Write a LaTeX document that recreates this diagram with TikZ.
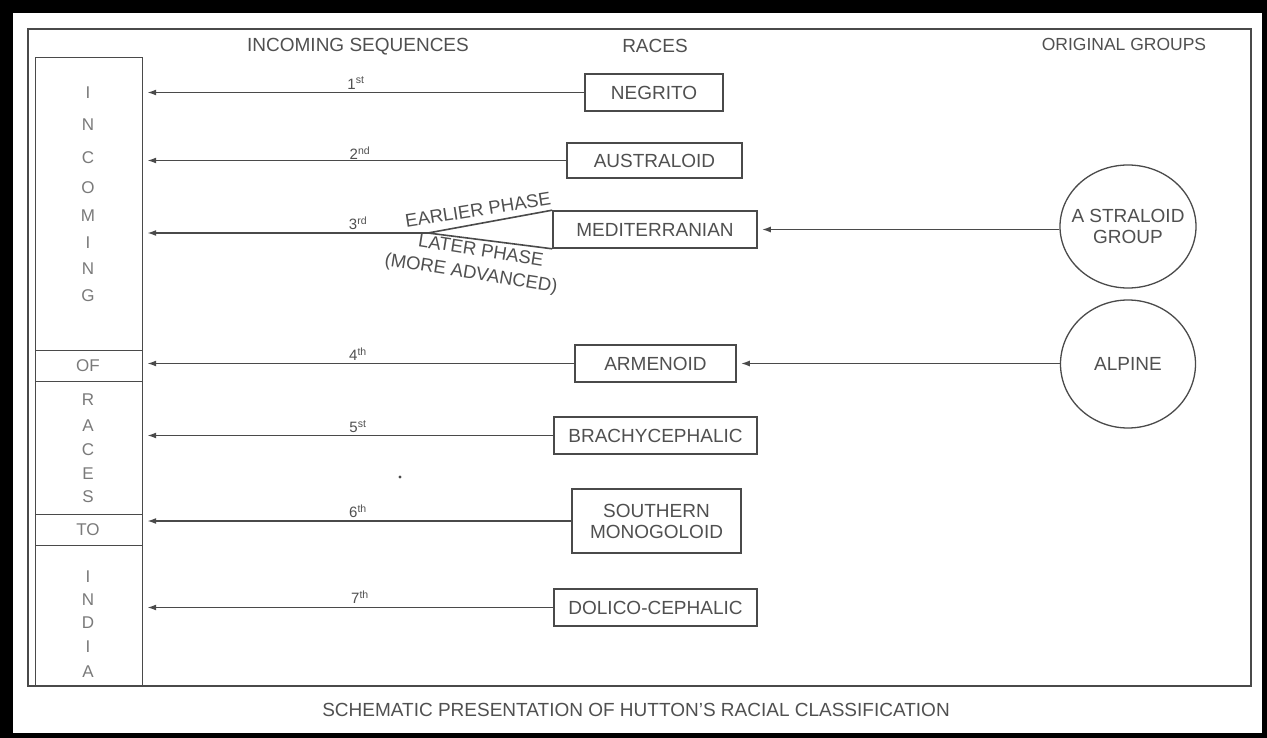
\documentclass[tikz,border=0pt]{standalone}
\usepackage{fontspec}
\setmainfont{Liberation Sans}
\usetikzlibrary{arrows.meta,shapes.geometric}
\definecolor{ink}{HTML}{4A4A4A}
\definecolor{txt}{HTML}{505050}
\definecolor{soft}{HTML}{7A7A7A}

\begin{document}
\begin{tikzpicture}[x=1pt,y=-1pt,
  line/.style={draw=ink, line width=1.6pt},
  racebox/.style={line, rectangle, inner sep=0pt, font=\fontsize{19}{21}\selectfont, text=txt, align=center},
  groupcirc/.style={line, line width=1.3pt, ellipse, inner sep=-10pt, font=\fontsize{19}{21}\selectfont, text=txt, align=center},
  colcell/.style={draw=ink, line width=1.2pt, rectangle, inner sep=0pt, anchor=north west, minimum width=107pt},
  letter/.style={font=\fontsize{17}{19}\selectfont, text=soft},
  head/.style={font=\fontsize{19}{21}\selectfont, text=txt},
  ordl/.style={font=\fontsize{15}{17}\selectfont, text=txt},
  phase/.style={font=\fontsize{18.5}{20}\selectfont, text=txt, inner sep=0pt},
  flow/.style={line, -{Latex[length=9pt,width=6pt]}, shorten >=4pt},
]
% page and black border
\useasboundingbox (0,0) rectangle (1267,738);
\fill[black] (0,0) rectangle (1267,738);
\fill[white] (13,13) rectangle (1262,733);

% outer frame
\draw[draw=ink, line width=1.2pt] (28,29) rectangle (1251,686);

% left column: INCOMING OF RACES TO INDIA
\node[colcell, minimum height=293pt] (cIncoming) at (35,57) {};
\node[colcell, minimum height=31pt]  (cOf)       at (35,350) {};
\node[colcell, minimum height=133pt] (cRaces)    at (35,381) {};
\node[colcell, minimum height=31pt]  (cTo)       at (35,514) {};
\node[colcell, minimum height=141pt] (cIndia)    at (35,545) {};

\foreach \ch/\yy [count=\k] in {I/93,N/125,C/158,O/188,M/216,I/243,N/269,G/296}
  \node[letter] (inc\k) at (88,\yy) {\ch};
\node[letter] (wOf) at (88,366) {OF};
\foreach \ch/\yy [count=\k] in {R/400,A/426,C/450,E/474,S/497}
  \node[letter] (rac\k) at (88,\yy) {\ch};
\node[letter] (wTo) at (88,530) {TO};
\foreach \ch/\yy [count=\k] in {I/577,N/600,D/623,I/647,A/672}
  \node[letter] (ind\k) at (88,\yy) {\ch};

% column headings
\node[head] (hSeq)   at (358,47)  {INCOMING SEQUENCES};
\node[head] (hRaces) at (655,46)  {RACES};
\node[head, font=\fontsize{17.5}{20}\selectfont] (hOrig) at (1124,44) {ORIGINAL GROUPS};

% races
\node[racebox, minimum width=138pt, minimum height=37pt] (negrito)  at (654,92.5)  {NEGRITO};
\node[racebox, minimum width=175pt, minimum height=35pt] (austral)  at (654.5,160.5) {AUSTRALOID};
\node[racebox, minimum width=204pt, minimum height=37pt] (medit)    at (655,229.5) {MEDITERRANIAN};
\node[racebox, minimum width=161pt, minimum height=37pt] (armen)    at (655.5,363.5) {ARMENOID};
\node[racebox, minimum width=203pt, minimum height=37pt] (brachy)   at (655.5,435.5) {BRACHYCEPHALIC};
\node[racebox, minimum width=169pt, minimum height=64pt] (southern) at (656.5,521)  {SOUTHERN\\MONOGOLOID};
\node[racebox, minimum width=203pt, minimum height=37pt] (dolico)   at (655.5,607.5) {DOLICO-CEPHALIC};

% original groups
\node[groupcirc, minimum width=136pt, minimum height=123pt] (astral) at (1128,226.5) {A STRALOID\\GROUP};
\node[groupcirc, minimum width=135pt, minimum height=128pt] (alpine) at (1128,364) {ALPINE};

% incoming sequence arrows
\draw[flow] (negrito.west)  -- (cIncoming.east |- negrito.west);
\draw[flow] (austral.west)  -- (cIncoming.east |- austral.west);
\coordinate (fork) at (428,233);
\draw[line] (medit.north west) -- (fork) -- (medit.south west);
\draw[flow] (fork) -- (cIncoming.east |- fork);
\draw[flow] (armen.west)    -- (cOf.east |- armen.west);
\draw[flow] (brachy.west)   -- (cRaces.east |- brachy.west);
\draw[flow] (southern.west) -- (cTo.east |- southern.west);
\draw[flow] (dolico.west)   -- (cIndia.east |- dolico.west);

% origin arrows
\draw[flow] (medit.east -| astral.west) -- (medit.east);
\draw[flow] (armen.east -| alpine.west) -- (armen.east);

% sequence numbers
\node[ordl] (o1) at (356,83)  {1\textsuperscript{st}};
\node[ordl] (o2) at (360,153) {2\textsuperscript{nd}};
\node[ordl] (o3) at (358,223) {3\textsuperscript{rd}};
\node[ordl] (o4) at (358,354) {4\textsuperscript{th}};
\node[ordl] (o5) at (358,427) {5\textsuperscript{st}};
\node[ordl] (o6) at (358,511) {6\textsuperscript{th}};
\node[ordl] (o7) at (360,597) {7\textsuperscript{th}};

% phases of the Mediterranean
\node[phase, rotate=9]  (early) at (478,210) {EARLIER PHASE};
\node[phase, rotate=-9] (late)  at (481,250) {LATER PHASE};
\node[phase, rotate=-9] (adv)   at (471,274) {(MORE ADVANCED)};

% speck
\fill[ink] (400,477) circle (1.6pt);

% caption
\node[head] (caption) at (636,710) {SCHEMATIC PRESENTATION OF HUTTON'S RACIAL CLASSIFICATION};
\end{tikzpicture}
\end{document}
